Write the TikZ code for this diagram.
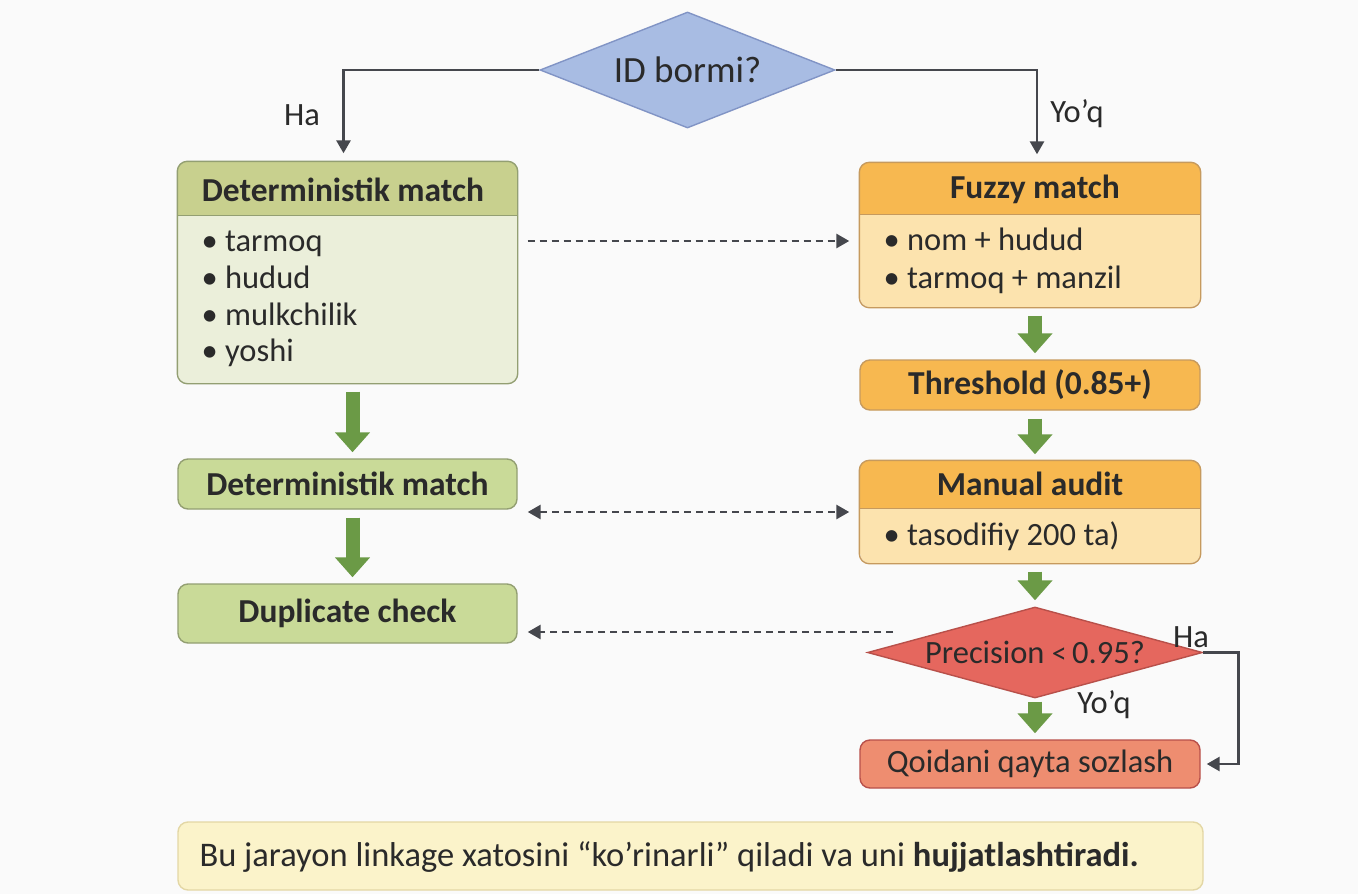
\documentclass[tikz,border=0pt]{standalone}
\usepackage{fontspec}
\setmainfont{Carlito}
\usetikzlibrary{arrows.meta,shapes.geometric}

\definecolor{bg}{HTML}{FAFAFA}
\definecolor{ghead}{HTML}{C8D08E}
\definecolor{gbody}{HTML}{EBEFDA}
\definecolor{gbox}{HTML}{C9DA98}
\definecolor{gline}{HTML}{939F72}
\definecolor{ohead}{HTML}{F7B850}
\definecolor{obody}{HTML}{FCE3AE}
\definecolor{oline}{HTML}{C69A5E}
\definecolor{rdia}{HTML}{E5675E}
\definecolor{rline}{HTML}{B8504A}
\definecolor{rbox}{HTML}{EE8D70}
\definecolor{bdia}{HTML}{A8BCE3}
\definecolor{bline}{HTML}{8194C5}
\definecolor{notefill}{HTML}{FBF3CA}
\definecolor{noteline}{HTML}{E3D7A5}
\definecolor{arrgreen}{HTML}{6B9A46}
\definecolor{arrgray}{HTML}{45474D}
\definecolor{ink}{HTML}{2A2A2A}

\begin{document}
\begin{tikzpicture}[x=1pt,y=-1pt,
  box/.style={rectangle,rounded corners=10pt,inner sep=0pt,line width=1.4pt},
  dia/.style={diamond,inner sep=0pt,line width=1.4pt},
  ttl/.style={font=\fontsize{33.5}{40}\selectfont\bfseries,text=ink},
  txt/.style={font=\fontsize{32.5}{39}\selectfont,text=ink,anchor=west,text height=22pt,text depth=7pt},
  lbl/.style={font=\fontsize{32.5}{39}\selectfont,text=ink},
  garr/.style={arrgreen,line width=14pt,-{Triangle[width=34pt,length=20pt]},shorten <=8pt,shorten >=6pt},
  darr/.style={arrgray,line width=2.8pt,-{Triangle[width=14pt,length=13pt]}},
  dasharr/.style={darr,dash pattern=on 7pt off 5pt,shorten <=10pt,shorten >=10pt}]
\useasboundingbox (0,0) rectangle (1358,894);
\fill[bg] (0,0) rectangle (1358,894);

% boxes
\node[dia,aspect=2.54,fill=bdia,draw=bline,minimum width=295pt,minimum height=116pt,font=\fontsize{37}{44}\selectfont,text=ink] (id) at (687.5,70) {ID bormi?};
\node[box,fill=gbody,minimum width=339pt,minimum height=221pt] (det) at (347.5,272.5) {};
\node[box,fill=obody,minimum width=340pt,minimum height=144pt] (fuzzy) at (1030,235) {};
\node[box,fill=ohead,draw=oline,minimum width=340pt,minimum height=50pt,ttl] (thr) at (1030,385) {Threshold (0.85+)};
\node[box,fill=obody,minimum width=340pt,minimum height=102pt] (audit) at (1030,512) {};
\node[box,fill=gbox,draw=gline,minimum width=339pt,minimum height=50pt,ttl] (det2) at (347.5,484) {Deterministik match};
\node[box,fill=gbox,draw=gline,minimum width=339pt,minimum height=59pt,ttl] (dup) at (347.5,613.5) {Duplicate check};
\node[dia,aspect=3.7,fill=rdia,draw=rline,minimum width=335pt,minimum height=91pt,lbl] (prec) at (1035,652.5) {Precision {\fontsize{30}{36}\selectfont<}\,0.95?};
\node[box,fill=rbox,draw=rline,minimum width=340pt,minimum height=48pt,lbl] (qoida) at (1030,764) {Qoidani qayta sozlash};
\node[box,fill=notefill,draw=noteline,minimum width=1025pt,minimum height=68pt] (note) at (690.5,856) {};

\foreach \n/\h/\c/\b in {det/54/ghead/gline,fuzzy/52/ohead/oline,audit/48/ohead/oline}{
  \begin{scope}
    \clip[rounded corners=10pt] (\n.south west) rectangle (\n.north east);
    \fill[\c] (\n.north west) rectangle ([yshift=-\h]\n.north east);
  \end{scope}
  \draw[\b,line width=1.2pt] ([yshift=-\h]\n.north west) -- ([yshift=-\h]\n.north east);
  \draw[\b,line width=1.4pt,rounded corners=10pt] (\n.south west) rectangle (\n.north east);
}

% texts
\node[ttl] (dett) at (343,190) {Deterministik match};
\node[ttl] (fuzzyt) at (1035,189) {Fuzzy match};
\node[ttl] (auditt) at (1030,484) {Manual audit};
\foreach \y/\t in {244/tarmoq,281/hudud,318/mulkchilik,354/yoshi} {
  \node[txt] (det\y) at (198,\y) {\textbullet\ \t};
}
\foreach \y/\t in {243/nom + hudud,281/tarmoq + manzil} {
  \node[txt] (fuzzy\y) at (880,\y) {\textbullet\ \t};
}
\node[txt] (audit1) at (880,538) {\textbullet\ tasodifiy 200 ta)};
\node[txt,font=\fontsize{34.5}{41}\selectfont] (notet) at (196,859) {Bu jarayon linkage xatosini “ko’rinarli” qiladi va uni \textbf{hujjatlashtiradi.}};

% connectors
\draw[darr,shorten >=8pt] (id.west) -| ([xshift=-4]det.north);
\draw[darr,shorten >=8pt] (id.east) -| ([xshift=7]fuzzy.north);
\node[lbl] (ha1) at (302,115) {Ha};
\node[lbl] (yoq1) at (1077,114) {Yo’q};
\draw[dasharr] ([yshift=-6]det.east |- fuzzy.west) -- ([yshift=-6]fuzzy.west);
\draw[dasharr,{Triangle[width=14pt,length=13pt]}-{Triangle[width=14pt,length=13pt]}] (det2.east |- audit.west) -- (audit.west);
\coordinate (pfrom) at (893,632);
\draw[dasharr,shorten <=0pt] (pfrom) -- (dup.east |- pfrom);
\draw[garr] ([xshift=5]det.south) -- ([xshift=5]det2.north);
\draw[garr] ([xshift=5]det2.south) -- ([xshift=5]dup.north);
\draw[garr] ([xshift=5]fuzzy.south) -- ([xshift=5]thr.north);
\draw[garr] ([xshift=5]thr.south) -- ([xshift=5]audit.north);
\draw[garr] ([xshift=5]audit.south) -- (prec.north);
\draw[garr,shorten <=3pt] (prec.south) -- ([xshift=5]qoida.north);
\draw[darr,shorten >=6pt] (prec.east) -- ++(35,0) |- (qoida.east);
\node[lbl] (ha2) at (1191,637) {Ha};
\node[lbl] (yoq2) at (1104,705) {Yo’q};
\end{tikzpicture}
\end{document}
